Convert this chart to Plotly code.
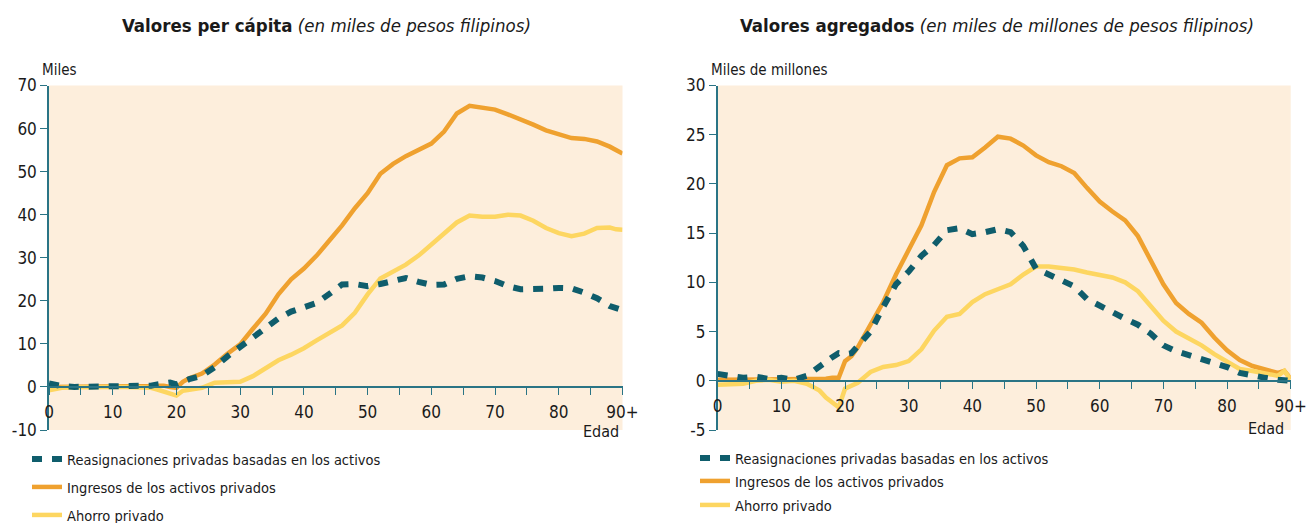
import plotly.graph_objects as go

# ---------------- data ----------------
AGES = [0, 2, 4, 6, 8, 10, 12, 14, 16, 17, 18, 19, 20, 21,
        22, 24, 26, 28, 30, 32, 34, 36, 38, 40, 42, 44, 46, 48, 50, 52, 54, 56, 58, 60,
        62, 64, 66, 68, 70, 72, 74, 76, 78, 80, 82, 84, 86, 88, 89, 90]
X_TICKVALS = list(range(0, 91, 5))
X_TICKTEXT = ["0", "", "10", "", "20", "", "30", "", "40", "", "50", "", "60", "", "70", "", "80", "", "90+"]
Y_TICKVALS_L = [-10, 0, 10, 20, 30, 40, 50, 60, 70]
Y_TICKTEXT_L = ["-10", "0", "10", "20", "30", "40", "50", "60", "70"]
Y_TICKVALS_R = [-5, 0, 5, 10, 15, 20, 25, 30]
Y_TICKTEXT_R = ["-5", "0", "5", "10", "15", "20", "25", "30"]

SERIES_NAMES = ["Reasignaciones privadas basadas en los activos",
                "Ingresos de los activos privados",
                "Ahorro privado"]

# Per capita (thousands of pesos)
PC_REALLOC = [0.8, 0.2, 0.0, 0.0, 0.0, 0.0, 0.0, 0.0, 0.3, 0.6, 0.9, 1.0, 0.6, 1.3,
              1.8, 2.6, 4.6, 7.1, 9.2, 11.5, 13.4, 15.9, 17.5, 18.5, 19.5, 21.6, 23.8, 23.9, 23.4, 23.9, 24.5,
              25.3, 24.4, 23.7, 23.8, 25.1, 25.7, 25.4, 24.6, 23.4, 22.7, 22.6, 22.8, 23.0, 22.9, 21.9, 20.6,
              18.8, 18.3, 17.8]
PC_INCOME = [0.0, 0.0, 0.0, 0.0, 0.0, 0.0, 0.0, 0.0, 0.2, 0.3, 0.3, 0.0, -0.2, 1.2,
             2.0, 3.1, 5.2, 7.7, 9.9, 13.5, 17.0, 21.5, 25.0, 27.5, 30.5, 34.0, 37.5, 41.5, 45.0, 49.5, 51.8,
             53.6, 55.0, 56.5, 59.3, 63.5, 65.3, 64.9, 64.4, 63.3, 62.2, 60.9, 59.6, 58.7, 57.8, 57.6, 57.0,
             55.8, 55.0, 54.2]
PC_SAVING = [-0.8, -0.2, -0.1, 0.0, 0.0, 0.0, 0.0, 0.0, -0.2, -0.6, -1.0, -1.4, -2.0, -0.9,
             -0.7, -0.2, 1.0, 1.2, 1.2, 2.5, 4.4, 6.2, 7.5, 9.0, 10.8, 12.6, 14.3, 17.2, 21.5, 25.2, 26.9,
             28.4, 30.5, 33.0, 35.6, 38.2, 39.8, 39.5, 39.5, 40.0, 39.8, 38.6, 36.9, 35.7, 35.0, 35.6, 36.9,
             37.0, 36.6, 36.5]

# Aggregate (billions of pesos)
AG_REALLOC = [0.7, 0.5, 0.3, 0.4, 0.2, 0.3, 0.1, 0.5, 1.5, 1.9, 2.4, 2.8, 2.7, 2.8,
              3.5, 5.0, 7.5, 9.8, 11.1, 12.7, 13.8, 15.3, 15.5, 14.9, 15.1, 15.4, 15.1, 13.7, 11.4, 10.8, 10.3,
              9.6, 8.3, 7.6, 7.0, 6.3, 5.7, 4.8, 3.6, 3.0, 2.6, 2.2, 1.8, 1.4, 0.8, 0.5, 0.3,
              0.1, 0.0, 0.0]
AG_INCOME = [0.1, 0.1, 0.1, 0.1, 0.1, 0.1, 0.1, 0.1, 0.1, 0.2, 0.3, 0.3, 2.0, 2.5,
             3.4, 5.8, 8.0, 10.8, 13.3, 15.8, 19.2, 21.9, 22.6, 22.7, 23.7, 24.8, 24.6, 23.9, 22.9, 22.2, 21.8,
             21.1, 19.6, 18.2, 17.2, 16.3, 14.7, 12.3, 9.8, 7.9, 6.8, 5.9, 4.4, 3.1, 2.1, 1.5, 1.1,
             0.8, 1.0, 0.2]
AG_SAVING = [-0.4, -0.3, -0.3, 0.0, 0.1, -0.1, 0.0, -0.3, -1.0, -1.7, -2.2, -2.7, -0.8, -0.5,
             -0.2, 0.9, 1.4, 1.6, 2.0, 3.2, 5.1, 6.5, 6.8, 8.0, 8.8, 9.3, 9.8, 10.8, 11.6, 11.6, 11.5,
             11.3, 11.0, 10.8, 10.5, 10.0, 9.1, 7.6, 6.1, 5.0, 4.3, 3.6, 2.7, 1.9, 1.2, 1.0, 0.7,
             0.5, 1.0, 0.1]

# ---------------- styling ----------------
W, H = 1307, 523
FONT = "DejaVu Sans Condensed, DejaVu Sans, sans-serif"
TEAL = "#0f5d6c"
ORANGE = "#efa12f"
YELLOW = "#fdd661"
BG = "#fdeedc"
AXIS = "#2a7485"
TXT = "#1a1a1a"


def px_x(p):
    return p / W


def px_y(p):
    return 1 - p / H


Y_DOM = [px_y(430), px_y(85.5)]
X_DOM_L = [px_x(49), px_x(622.5)]
X_DOM_R = [px_x(717.7), px_x(1290.7)]
Y_RANGE_L = [-10, 70]
Y_RANGE_R = [-5, 30]


def zero_pos(rng):
    return Y_DOM[0] + (0 - rng[0]) / (rng[1] - rng[0]) * (Y_DOM[1] - Y_DOM[0])


fig = go.Figure()

panels = [
    ("x", "y", [PC_REALLOC, PC_INCOME, PC_SAVING], ["legend", "legend2", "legend3"]),
    ("x2", "y2", [AG_REALLOC, AG_INCOME, AG_SAVING], ["legend4", "legend5", "legend6"]),
]
styles = [
    dict(color=TEAL, width=6, dash="10px,10px"),
    dict(color=ORANGE, width=4.5),
    dict(color=YELLOW, width=4.5),
]
draw_order = [1, 2, 0]
for xa, ya, series, legs in panels:
    for i in draw_order:
        fig.add_trace(go.Scatter(
            x=AGES, y=series[i], xaxis=xa, yaxis=ya, mode="lines",
            name=SERIES_NAMES[i], line=styles[i], legend=legs[i],
            showlegend=True, hoverinfo="skip"))

axis_common = dict(showgrid=False, zeroline=False, showline=True, linecolor=AXIS, linewidth=1.5,
                   ticks="outside", ticklen=7, tickwidth=1.3, tickcolor=AXIS,
                   tickfont=dict(family=FONT, size=17, color=TXT), automargin=False, fixedrange=True,
                   ticklabeloverflow="allow")

fig.update_layout(
    width=W, height=H, autosize=False,
    margin=dict(l=0, r=0, t=0, b=0, autoexpand=False),
    paper_bgcolor="white", plot_bgcolor=BG,
    font=dict(family=FONT, size=17, color=TXT),
    xaxis=dict(domain=X_DOM_L, range=[0, 90], anchor="free", position=zero_pos(Y_RANGE_L),
               tickvals=X_TICKVALS, ticktext=X_TICKTEXT, ticklabelstandoff=3, **axis_common),
    yaxis=dict(domain=Y_DOM, range=Y_RANGE_L, anchor="x", tickvals=Y_TICKVALS_L,
               ticktext=Y_TICKTEXT_L, **axis_common),
    xaxis2=dict(domain=X_DOM_R, range=[0, 90], anchor="free", position=zero_pos(Y_RANGE_R),
                tickvals=X_TICKVALS, ticktext=X_TICKTEXT, ticklabelstandoff=3, **axis_common),
    yaxis2=dict(domain=Y_DOM, range=Y_RANGE_R, anchor="x2", tickvals=Y_TICKVALS_R,
                ticktext=Y_TICKTEXT_R, **axis_common),
)

# legends, one per entry so spacing matches
leg_pos = {"legend": (27, 459), "legend2": (27, 487), "legend3": (27, 515),
           "legend4": (695, 458), "legend5": (695, 481), "legend6": (695, 505)}
for k, (lx, ly) in leg_pos.items():
    fig.update_layout({k: dict(x=px_x(lx), y=px_y(ly), xanchor="left", yanchor="middle",
                               xref="container", yref="container",
                               bgcolor="rgba(0,0,0,0)", borderwidth=0,
                               font=dict(family=FONT, size=14.5, color=TXT))})

ann = [
    dict(x=px_x(326), y=px_y(25), text="<b>Valores per cápita</b> <i>(en miles de pesos filipinos)</i>",
         xanchor="center", yanchor="middle", size=18.5),
    dict(x=px_x(997), y=px_y(25),
         text="<b>Valores agregados</b> <i>(en miles de millones de pesos filipinos)</i>",
         xanchor="center", yanchor="middle", size=18.5),
    dict(x=px_x(40), y=px_y(70), text="Miles", xanchor="left", yanchor="middle", size=15),
    dict(x=px_x(709), y=px_y(70), text="Miles de millones", xanchor="left", yanchor="middle", size=15),
    dict(x=px_x(621), y=px_y(431), text="Edad", xanchor="right", yanchor="middle", size=16),
    dict(x=px_x(1286), y=px_y(428.5), text="Edad", xanchor="right", yanchor="middle", size=16),
]
annotations = []
for a in ann:
    size = a.pop("size")
    a.update(xref="paper", yref="paper", showarrow=False,
             font=dict(family=FONT, color=TXT, size=size))
    annotations.append(a)
fig.update_layout(annotations=annotations)

fig.write_html("out.html", config={"displayModeBar": False},
               post_script="document.body.style.margin='0';")
